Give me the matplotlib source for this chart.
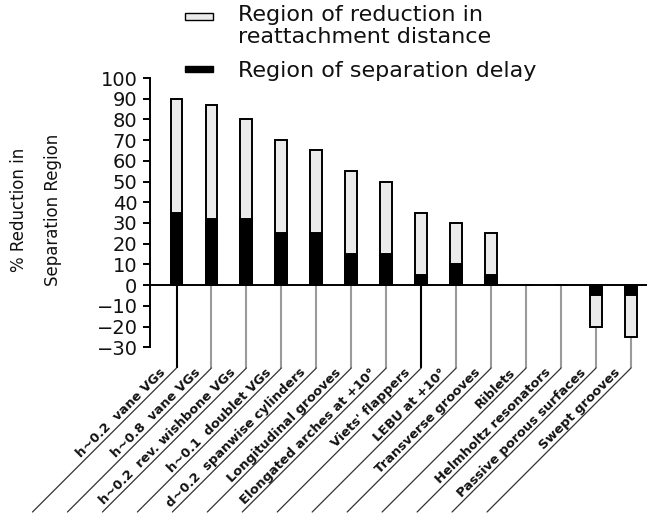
import numpy as np
import matplotlib as mpl
mpl.use('Agg')
from matplotlib import pyplot as plt
from matplotlib.patches import Rectangle

plt.rcParams['font.family'] = ['DejaVu Sans']

# control devices and their effect on the separated region (%)
categories = ['h~0.2  vane VGs', 'h~0.8  vane VGs', 'h~0.2  rev. wishbone VGs',
              'h~0.1  doublet VGs', 'd~0.2  spanwise cylinders', 'Longitudinal grooves',
              'Elongated arches at +10°', "Viets' flappers", 'LEBU at +10°',
              'Transverse grooves', 'Riblets', 'Helmholtz resonators',
              'Passive porous surfaces', 'Swept grooves']
reattach_total = [90, 87, 80, 70, 65, 55, 50, 35, 30, 25, 0, 0, -20, -25]
sep_delay = [35, 32, 32, 25, 25, 15, 15, 5, 10, 5, 0, 0, -5, -5]
yticks = list(range(-30, 101, 10))

W, H = 647, 515
fig = plt.figure(figsize=(W / 100, H / 100), dpi=100)
ax = fig.add_axes([150 / W, 1 - 368 / H, 497 / W, 290 / H])

txt = '#111111'
light = '#ebebeb'
x = np.arange(len(categories))
bw = 0.34

ax.bar(x, reattach_total, width=bw, color=light, edgecolor='black', linewidth=1.4, zorder=3)
ax.bar(x, sep_delay, width=bw, color='black', edgecolor='black', linewidth=1.4, zorder=4)
ax.axhline(0, color='black', lw=1.4, zorder=5)

ax.set_xlim(-0.758, 13.457)
ax.set_ylim(-40, 100)
ax.set_yticks(yticks)
ax.set_xticks([])
for s in ['top', 'right', 'bottom']:
    ax.spines[s].set_visible(False)
ax.spines['left'].set_bounds(-30, 100)
ax.spines['left'].set_linewidth(1.4)
ax.tick_params(axis='y', direction='out', length=5, width=1.4, pad=4,
               labelsize=14, labelcolor=txt)

# leader lines running from each bar down to its slanted label
lead_colors = ['black' if i in (0, 7) else '#9a9a9a' for i in range(len(x))]
for xi, tot, c, name in zip(x, reattach_total, lead_colors, categories):
    ax.vlines(xi, min(0, tot), -40, colors=c, lw=1.5, zorder=2, clip_on=False)
    ax.annotate('', xy=(xi, -40), xytext=(-144, -144), textcoords='offset pixels',
                arrowprops=dict(arrowstyle='-', color='#333333', lw=0.9,
                                shrinkA=0, shrinkB=0),
                annotation_clip=False)
    ax.annotate(name, xy=(xi, -40), xytext=(-10, -5), textcoords='offset pixels',
                rotation=45, rotation_mode='anchor', ha='right', va='baseline',
                fontsize=9.4, fontweight='bold', color=txt, annotation_clip=False)

fig.text(36 / W, 1 - 210 / H, '% Reduction in\nSeparation Region', rotation=90,
         ha='center', va='center', multialignment='center', linespacing=2.2,
         fontsize=12, color=txt)

# legend drawn by hand above the plot
fig.add_artist(Rectangle((185 / W, 1 - 20 / H), 28 / W, 7 / H, facecolor=light,
                         edgecolor='black', lw=1.0, transform=fig.transFigure))
fig.add_artist(Rectangle((185 / W, 1 - 72 / H), 28 / W, 6 / H, facecolor='black',
                         edgecolor='black', lw=1.0, transform=fig.transFigure))
fig.text(238 / W, 1 - 21 / H, 'Region of reduction in', fontsize=16, color=txt, va='baseline')
fig.text(238 / W, 1 - 43 / H, 'reattachment distance', fontsize=16, color=txt, va='baseline')
fig.text(238 / W, 1 - 77 / H, 'Region of separation delay', fontsize=16, color=txt, va='baseline')

fig.savefig('out.png', dpi=100)
